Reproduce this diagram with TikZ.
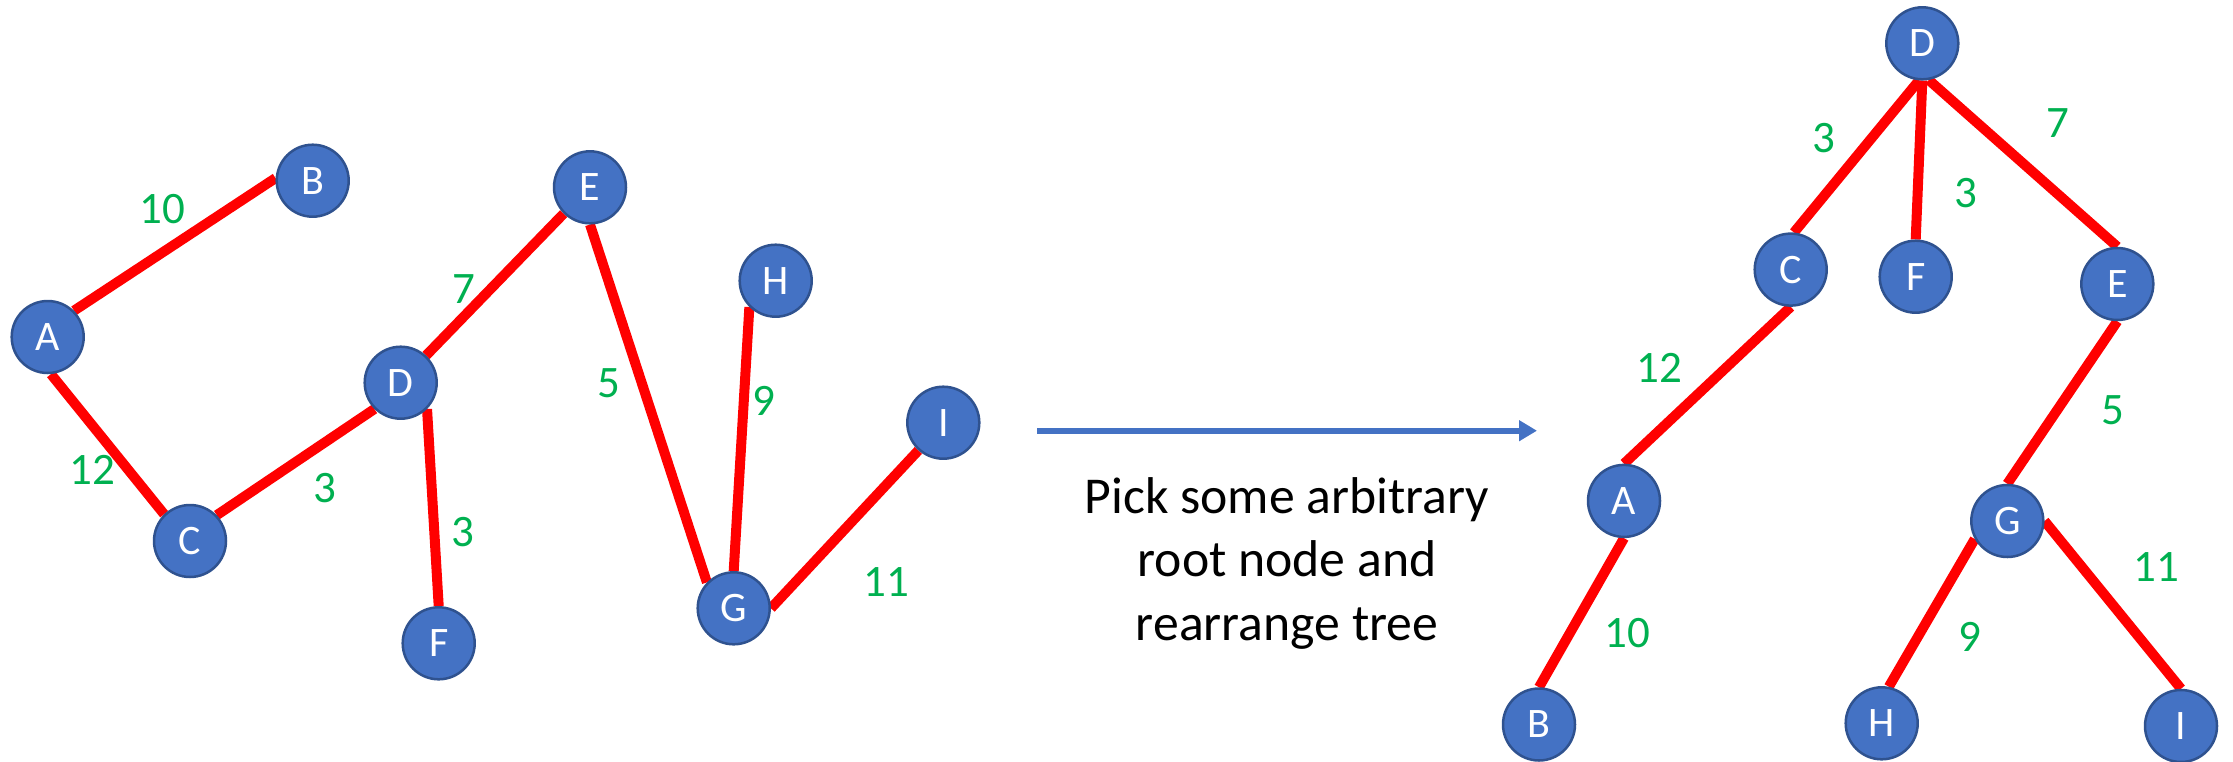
\documentclass[tikz,border=0pt]{standalone}
\usepackage{fontspec}
\setmainfont{Carlito}
\usetikzlibrary{arrows.meta,backgrounds}
\definecolor{nodefill}{HTML}{4472C4}
\definecolor{nodeline}{HTML}{2F528F}
\definecolor{edgered}{HTML}{FF0000}
\definecolor{wgreen}{HTML}{00B050}
\tikzset{
  vert/.style={circle, fill=nodefill, draw=nodeline, line width=2.5pt, minimum size=72pt, inner sep=0pt, text=white, font=\fontsize{42}{42}\selectfont},
  edge/.style={draw=edgered, line width=10pt},
  wlabel/.style={text=wgreen, inner sep=0pt, font=\fontsize{45}{45}\selectfont},
  caption/.style={align=center, inner sep=0pt, font=\fontsize{51.7}{63.5}\selectfont},
  bluearrow/.style={draw=nodefill, line width=6pt, -{Triangle[length=18pt,width=20pt]}}
}
\begin{document}
\begin{tikzpicture}[x=1pt,y=-1pt]
\useasboundingbox (0,0) rectangle (2233,761);
% left graph
\node[vert] (A) at (47.7,337) {A};
\node[vert] (B) at (312.7,180.7) {B};
\node[vert] (C) at (190,541) {C};
\node[vert] (D) at (400.7,382.7) {D};
\node[vert] (E) at (590,187.3) {E};
\node[vert] (F) at (438.7,643.3) {F};
\node[vert] (G) at (733.7,608.3) {G};
\node[vert] (H) at (775.7,280.7) {H};
\node[vert] (I) at (943.3,422.7) {I};
% right tree
\node[vert] (rD) at (1922.3,43.3) {D};
\node[vert] (rC) at (1790.7,269.6) {C};
\node[vert] (rF) at (1915.7,276.7) {F};
\node[vert] (rE) at (2117.3,284) {E};
\node[vert] (rA) at (1624,500.9) {A};
\node[vert] (rB) at (1539,724.5) {B};
\node[vert] (rG) at (2007.3,521) {G};
\node[vert] (rH) at (1881.7,723.3) {H};
\node[vert] (rI) at (2181,726) {I};
\begin{pgfonlayer}{background}
\draw[edge] (A.45) -- (B.176);
\draw[edge] (A.-85) -- (C.134);
\draw[edge] (C.44) -- (D.225);
\draw[edge] (D.47) -- (E.225);
\draw[edge] (D.-45) -- (F.north);
\draw[edge] (E.south) -- (G.136);
\draw[edge] (H.225) -- (G.north);
\draw[edge] (G.east) -- (I.228);
\draw[edge] (rD.-95) -- (rC.85);
\draw[edge] (rD.south) -- (rF.north);
\draw[edge] (rD.-80) -- (rE.north);
\draw[edge] (rC.south) -- (rA.north);
\draw[edge] (rA.south) -- (rB.north);
\draw[edge] (rE.south) -- (rG.north);
\draw[edge] (rG.209) -- (rH.79);
\draw[edge] (rG.east) -- (rI.north);
\end{pgfonlayer}
% weights left
\node[wlabel] (wAB) at (162,209) {10};
\node[wlabel] (wAC) at (92,470) {12};
\node[wlabel] (wCD) at (325,488) {3};
\node[wlabel] (wDE) at (464,289) {7};
\node[wlabel] (wDF) at (463,532) {3};
\node[wlabel] (wEG) at (609,383) {5};
\node[wlabel] (wHG) at (764,401) {9};
\node[wlabel] (wGI) at (886,582) {11};
% weights right
\node[wlabel] (rwDC) at (1824,138) {3};
\node[wlabel] (rwDF) at (1966,193) {3};
\node[wlabel] (rwDE) at (2058,123) {7};
\node[wlabel] (rwCA) at (1659,368) {12};
\node[wlabel] (rwEG) at (2113,410) {5};
\node[wlabel] (rwAB) at (1627,633) {10};
\node[wlabel] (rwGH) at (1970,637) {9};
\node[wlabel] (rwGI) at (2156,567) {11};
% arrow and caption
\coordinate (arrS) at (1037,430.7);
\coordinate (arrT) at (1537,430.7);
\draw[bluearrow] (arrS) -- (arrT);
\node[caption, anchor=base] (cap) at (1287,640) {Pick some arbitrary\\root node and\\rearrange tree};
\end{tikzpicture}
\end{document}
